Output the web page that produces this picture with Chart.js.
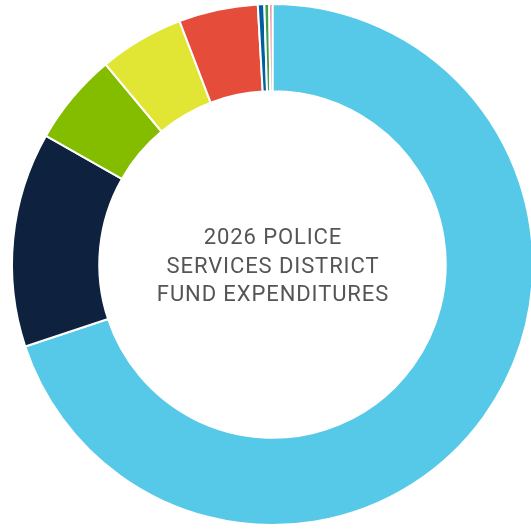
<!DOCTYPE html>
<html>
<head>
<meta charset="utf-8">
<script src="https://cdn.jsdelivr.net/npm/chart.js@4"></script>
<style>
  html, body { margin: 0; padding: 0; background: #fff; overflow: hidden; }
  #wrap { width: 545px; height: 529px; }
</style>
</head>
<body>
<div id="wrap"><canvas id="c" width="545" height="529"></canvas></div>
<script>
// Share of 2026 fund expenditures by category (percent)
const categories = [
  "Personnel Services",
  "Contractual Services",
  "Equipment",
  "Supplies",
  "Capital Outlay",
  "Training",
  "Vehicle Maintenance",
  "Other"
];
const shares = [69.8, 13.3, 5.7, 5.25, 4.9, 0.4, 0.3, 0.2];
const sliceColors = ["#56C8E8", "#0E2240", "#84BD00", "#E1E634", "#E64C3A", "#005F9E", "#3E9E4A", "#E07A8A"];
const centerLines = ["2026 POLICE", "SERVICES DISTRICT", "FUND EXPENDITURES"];

// Title written in the hole of the doughnut
const centerText = {
  id: "centerText",
  afterDraw(chart) {
    const meta = chart.getDatasetMeta(0);
    if (!meta.data.length) return;
    const { x, y } = meta.data[0];
    const ctx = chart.ctx;
    ctx.save();
    ctx.font = "22px Roboto";
    if ("letterSpacing" in ctx) ctx.letterSpacing = "0.9px";
    ctx.fillStyle = "#555555";
    ctx.textAlign = "center";
    ctx.textBaseline = "alphabetic";
    const lh = 28.6;
    centerLines.forEach((t, i) => {
      ctx.fillText(t, x + 0.5, y + 8.2 + (i - 1) * lh);
    });
    ctx.restore();
  }
};

new Chart(document.getElementById("c"), {
  type: "doughnut",
  data: {
    labels: categories,
    datasets: [{
      data: shares,
      backgroundColor: sliceColors,
      borderColor: "#ffffff",
      borderWidth: 2
    }]
  },
  options: {
    responsive: false,
    animation: false,
    cutout: "66.5%",
    layout: { padding: 3 },
    plugins: {
      legend: { display: false },
      tooltip: { enabled: false }
    }
  },
  plugins: [centerText]
});
</script>
</body>
</html>
